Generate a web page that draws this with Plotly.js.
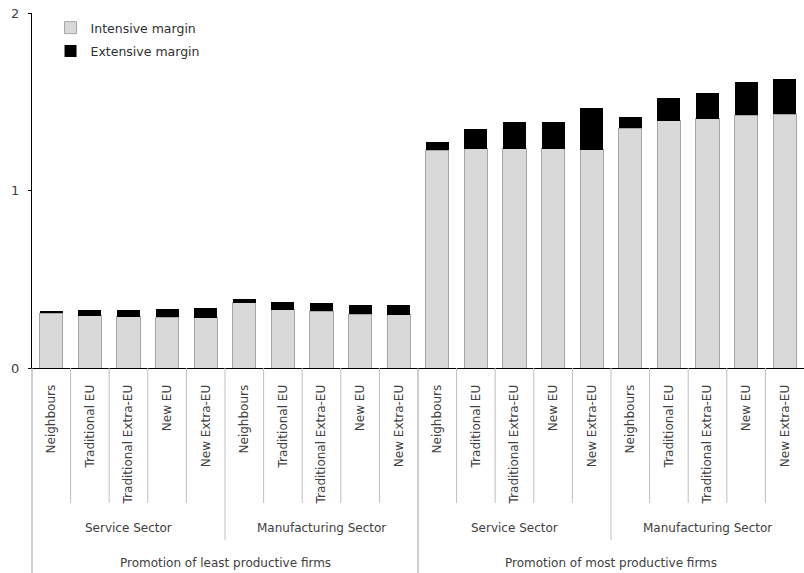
<!DOCTYPE html>
<html>
<head>
<meta charset="utf-8">
<script src="https://cdn.plot.ly/plotly-3.0.1.min.js"></script>
<style>html,body{margin:0;padding:0;background:#fff;}#chart{width:804px;height:573px;}</style>
</head>
<body>
<div id="chart"></div>
<script>
const categories = ['Neighbours','Traditional EU','Traditional Extra-EU','New EU','New Extra-EU',
  'Neighbours','Traditional EU','Traditional Extra-EU','New EU','New Extra-EU',
  'Neighbours','Traditional EU','Traditional Extra-EU','New EU','New Extra-EU',
  'Neighbours','Traditional EU','Traditional Extra-EU','New EU','New Extra-EU'];
const sectors = ['Service Sector','Manufacturing Sector','Service Sector','Manufacturing Sector'];
const groups = ['Promotion of least productive firms','Promotion of most productive firms'];
const intensive = [0.308,0.295,0.289,0.287,0.282,0.368,0.328,0.321,0.302,0.299,
  1.228,1.234,1.234,1.234,1.230,1.352,1.393,1.403,1.423,1.429];
const extensive = [0.015,0.033,0.039,0.047,0.058,0.022,0.042,0.047,0.053,0.054,
  0.047,0.114,0.154,0.154,0.237,0.064,0.130,0.148,0.186,0.201];
const yTicks = [0,1,2];

const FONT = 'DejaVu Sans';
const xs = categories.map((_, i) => i);
const n = categories.length;
const perSector = n / sectors.length;
const perGroup = n / groups.length;

const traces = [
  {type:'bar', name:'Intensive margin', legendgroup:'a', x: xs, y: intensive,
   marker:{color:'#d9d9d9', line:{color:'#a6a6a6', width:1}}},
  {type:'bar', name:'Extensive margin', legendgroup:'b', x: xs, y: extensive,
   marker:{color:'#000000', line:{color:'#000000', width:0}}}
];

const shapes = [];
const sepColor = '#bfbfbf';
for (let i = 0; i < n; i++) {
  let y0 = -0.38;
  let col = sepColor;
  if (i % perGroup === 0) { y0 = -0.6; col = '#a0a0a0'; }
  else if (i % perSector === 0) { y0 = -0.4845; }
  shapes.push({type:'line', xref:'paper', yref:'paper', x0: i / n, x1: i / n, y0: 0, y1: y0,
    line:{color: col, width: 1}});
}

const annotations = [];
sectors.forEach((s, k) => {
  annotations.push({xref:'x', yref:'paper', x: k * perSector + (perSector - 1) / 2, y: -0.451,
    text: s, showarrow:false, font:{family: FONT, size: 12, color:'#404040'}, yanchor:'middle'});
});
groups.forEach((g, k) => {
  annotations.push({xref:'x', yref:'paper', x: k * perGroup + (perGroup - 1) / 2, y: -0.549,
    text: g, showarrow:false, font:{family: FONT, size: 12, color:'#404040'}, yanchor:'middle'});
});

const layout = {
  width: 804, height: 573,
  margin: {l: 32, r: 0, t: 13, b: 205},
  paper_bgcolor:'#ffffff', plot_bgcolor:'#ffffff',
  barmode:'stack', bargap: 0.4,
  font:{family: FONT, size: 12, color:'#404040'},
  xaxis: {range:[-0.5, n - 0.5], tickmode:'array', tickvals: xs, ticktext: categories,
    tickangle: -90, ticks:'outside', ticklen: 11, tickcolor:'rgba(0,0,0,0)',
    showgrid:false, zeroline:false,
    showline:true, linecolor:'#000000', linewidth:1,
    tickfont:{family: FONT, size: 12, color:'#404040'}, fixedrange:true},
  yaxis: {range:[0, 2], tickmode:'array', tickvals: yTicks, ticktext: yTicks.map(String),
    ticks:'outside', ticklen: 3, tickcolor:'#000000', showgrid:false, zeroline:false,
    showline:true, linecolor:'#000000', linewidth:1, ticklabelstandoff: 6,
    tickfont:{family: FONT, size: 13, color:'#404040'}, fixedrange:true},
  showlegend: true,
  legend: {x: 0.024, y: 1.0, xanchor:'left', yanchor:'top', traceorder:'grouped',
    tracegroupgap: 4,
    bgcolor:'rgba(0,0,0,0)', font:{family: FONT, size: 12.5, color:'#303030'}},
  shapes: shapes,
  annotations: annotations
};

Plotly.newPlot('chart', traces, layout, {displayModeBar:false, staticPlot:true});
</script>
</body>
</html>
